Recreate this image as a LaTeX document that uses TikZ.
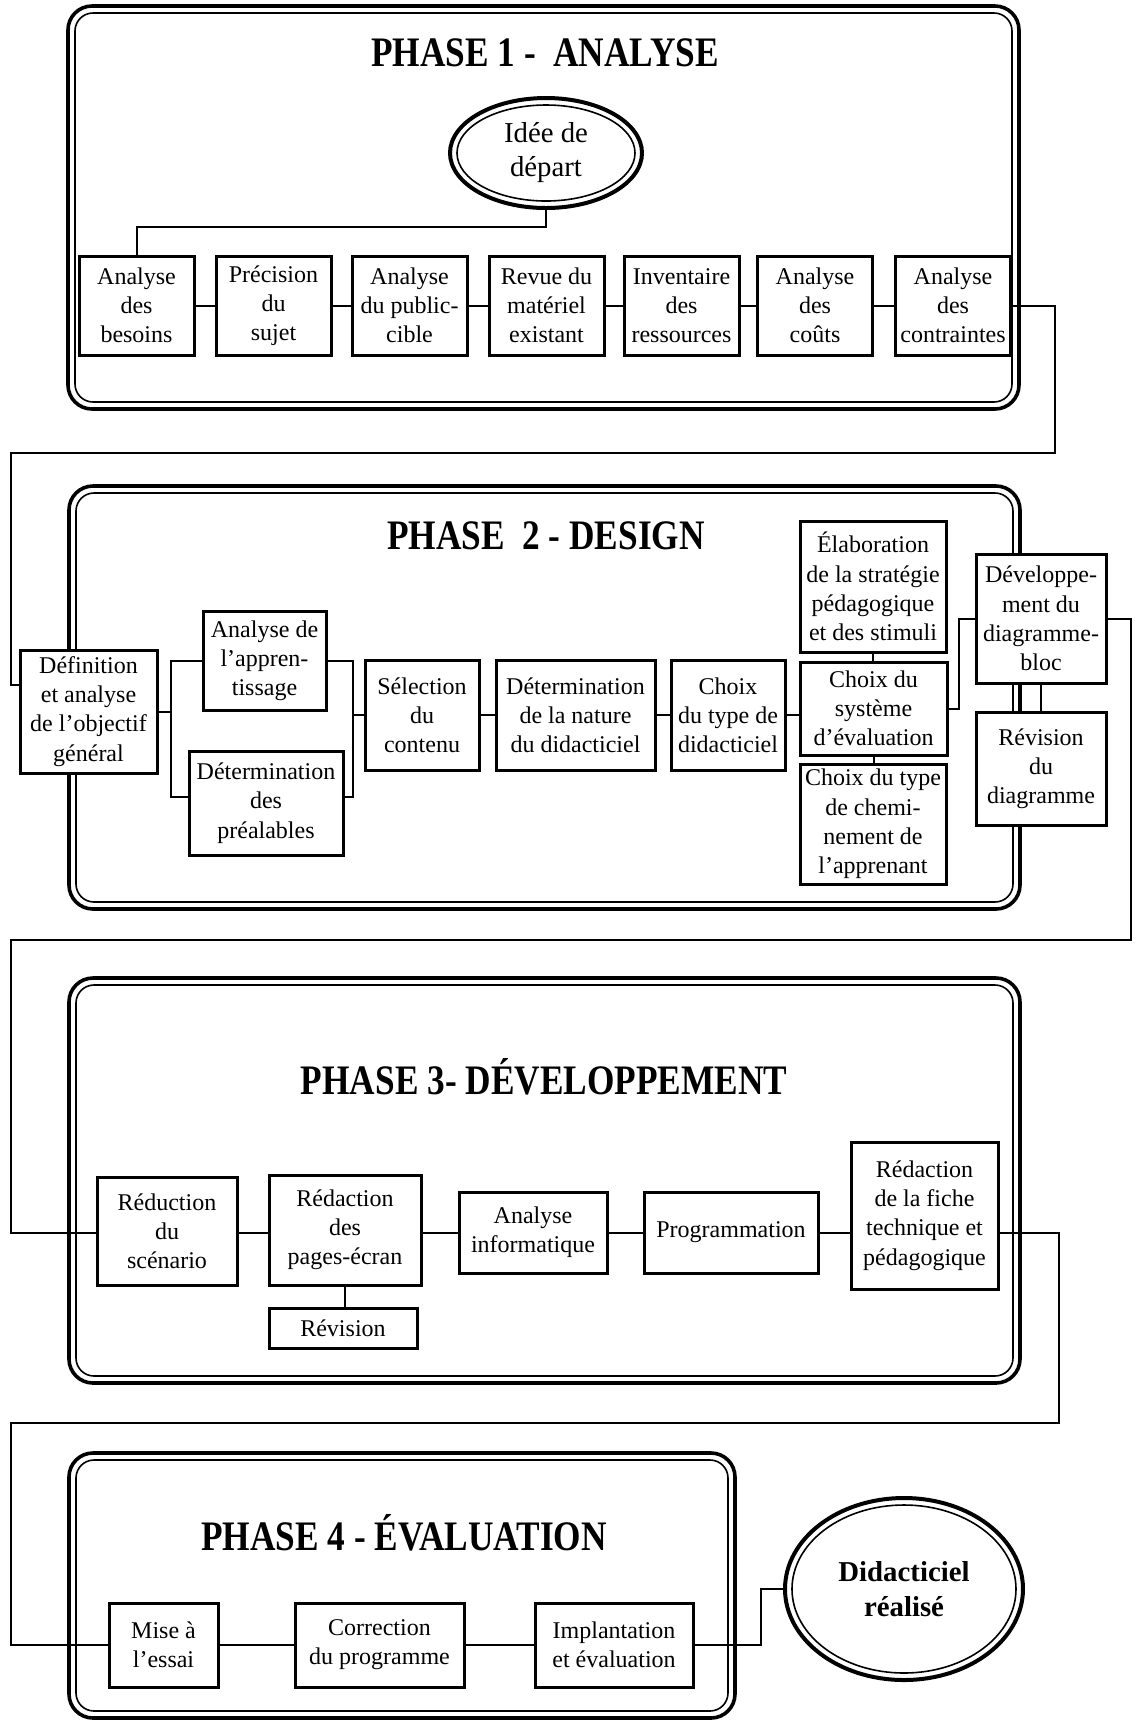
\documentclass[tikz,border=0pt]{standalone}
\usepackage{fontspec}
\setmainfont{Liberation Serif}
\newfontfamily\titlefont[FakeStretch=0.84]{Liberation Serif}
\usetikzlibrary{shapes.geometric}
\begin{document}
\begin{tikzpicture}[x=0.5pt, y=-0.5pt,
  box/.style={draw, line width=1.5pt, fill=white, align=center, inner sep=0pt, font=\fontsize{12}{14.6}\selectfont},
  conn/.style={line width=1pt},
  outerf/.style={line width=1.8pt, rounded corners=12pt},
  innerf/.style={line width=0.8pt, rounded corners=9pt},
  ttl/.style={font=\titlefont\bfseries\fontsize{21}{24}\selectfont, inner sep=0pt},
  oval/.style={draw, ellipse, line width=2pt, fill=white, align=center, inner sep=0pt},
  p1box/.style={box, minimum width=57.5pt, minimum height=49.5pt}
]
\useasboundingbox (0,0) rectangle (1138,1721);

% ---------- frames ----------
\draw[outerf] (68,6) rectangle (1019,409);
\draw[innerf] (75,13) rectangle (1012,402);
\draw[outerf] (69,486) rectangle (1020,909);
\draw[innerf] (76,493) rectangle (1013,902);
\draw[outerf] (69,978) rectangle (1020,1383);
\draw[innerf] (76,985) rectangle (1013,1376);
\draw[outerf] (69,1453) rectangle (735,1718);
\draw[innerf] (76,1460) rectangle (728,1711);

% ---------- titles ----------
\node[ttl] (t1) at (545,53) {PHASE 1 - \ ANALYSE};
\node[ttl] (t2) at (546,536) {PHASE \ 2 - DESIGN};
\node[ttl] (t3) at (544,1077) {PHASE 3- DÉVELOPPEMENT};
\node[ttl] (t4) at (404,1533) {PHASE 4 - ÉVALUATION};

% ---------- phase 1 ----------
\node[oval, minimum width=96pt, minimum height=55pt, font=\fontsize{14.4}{17}\selectfont] (idee) at (546,153) {Idée de\\départ};
\draw[line width=0.8pt] (idee.center) ellipse [x radius=44.5pt, y radius=24pt];
\node[p1box] (b1) at (136.5,305.5) {Analyse\\des\\besoins};
\node[p1box] (b2) at (273.5,305.5) {Précision\\du\\sujet};
\node[p1box] (b3) at (409.5,305.5) {Analyse\\du public-\\cible};
\node[p1box] (b4) at (546.5,305.5) {Revue du\\matériel\\existant};
\node[p1box] (b5) at (681.5,305.5) {Inventaire\\des\\ressources};
\node[p1box] (b6) at (815,305.5) {Analyse\\des\\coûts};
\node[p1box] (b7) at (953,305.5) {Analyse\\des\\contraintes};

\coordinate (k1) at (546,227);
\draw[conn] (idee.south) -- (k1) -| (b1.north);
\draw[conn] (b1.east) -- (b2.west);
\draw[conn] (b2.east) -- (b3.west);
\draw[conn] (b3.east) -- (b4.west);
\draw[conn] (b4.east) -- (b5.west);
\draw[conn] (b5.east) -- (b6.west);
\draw[conn] (b6.east) -- (b7.west);

% ---------- phase 2 ----------
\node[box, minimum width=68.5pt, minimum height=61.5pt] (def) at (88.5,711.5) {Définition\\et analyse\\de l'objectif\\général};
\node[box, minimum width=61.5pt, minimum height=49.5pt] (anap) at (264.5,660.5) {Analyse de\\l'appren-\\tissage};
\node[box, minimum width=77pt, minimum height=52pt] (prea) at (266,803) {Détermination\\des\\préalables};
\node[box, minimum width=57pt, minimum height=55pt] (sel) at (422,715) {Sélection\\du\\contenu};
\node[box, minimum width=79.5pt, minimum height=55pt] (nat) at (575.5,715) {Détermination\\de la nature\\du didacticiel};
\node[box, minimum width=57pt, minimum height=55pt] (typ) at (728,715) {Choix\\du type de\\didacticiel};
\node[box, minimum width=73pt, minimum height=65.5pt] (ela) at (873,586.5) {Élaboration\\de la stratégie\\pédagogique\\et des stimuli};
\node[box, minimum width=73.5pt, minimum height=46.5pt] (sys) at (873.5,708.5) {Choix du\\système\\d'évaluation};
\node[box, minimum width=73pt, minimum height=60pt] (che) at (873,824) {Choix du type\\de chemi-\\nement de\\l'apprenant};
\node[box, minimum width=65pt, minimum height=64.5pt] (dev) at (1041,618.5) {Développe-\\ment du\\diagramme-\\bloc};
\node[box, minimum width=65pt, minimum height=56.5pt] (rev) at (1041,768.5) {Révision\\du\\diagramme};

% phase 1 -> phase 2
\coordinate (c1) at (11,685);
\draw[conn] (b7.east) -| (1055,453) -| (c1) -- (c1 -| def.west);

\coordinate (L1) at (171,660.5);
\coordinate (L2) at (171,797);
\coordinate (R1) at (353,660.5);
\coordinate (R2) at (353,797);
\draw[conn] (def.east) -- (def.east -| L1);
\draw[conn] (anap.west) -- (L1) -- (L2) -- (L2 -| prea.west);
\draw[conn] (anap.east) -- (R1) -- (R2) -- (R2 -| prea.east);
\draw[conn] (sel.west) -- (sel.west -| R1);
\draw[conn] (sel.east) -- (nat.west);
\draw[conn] (nat.east) -- (typ.west);
\draw[conn] (typ.east) -- (typ.east -| sys.west);
\draw[conn] (ela.south) -- (ela.south |- sys.north);
\draw[conn] (sys.south) -- (sys.south |- che.north);
\coordinate (S1) at (959,618.5);
\draw[conn] (sys.east) -| (S1) -- (dev.west);
\draw[conn] (dev.south) -- (rev.north);

% ---------- phase 3 ----------
\coordinate (M3) at (0,1233);
\node[box, minimum width=70pt, minimum height=54pt] (red) at (167,1231) {Réduction\\du\\scénario};
\node[box, minimum width=76pt, minimum height=55pt] (pag) at (345,1230) {Rédaction\\des\\pages-écran};
\node[box, minimum width=74pt, minimum height=20pt] (rv3) at (343,1328) {Révision};
\node[box, minimum width=74pt, minimum height=40.5pt] (inf) at (533,1232.5) {Analyse\\informatique};
\node[box, minimum width=87pt, minimum height=40.5pt] (pro) at (731,1232.5) {Programmation};
\node[box, minimum width=73.5pt, minimum height=73.5pt] (fic) at (924.5,1215.5) {Rédaction\\de la fiche\\technique et\\pédagogique};

% phase 2 -> phase 3
\coordinate (c2) at (11,1233);
\draw[conn] (dev.east) -| (1131,940) -| (c2) -- (c2 -| red.west);

\draw[conn] (red.east |- M3) -- (pag.west |- M3);
\draw[conn] (pag.east |- M3) -- (inf.west |- M3);
\draw[conn] (inf.east |- M3) -- (pro.west |- M3);
\draw[conn] (pro.east |- M3) -- (fic.west |- M3);
\draw[conn] (pag.south) -- (pag.south |- rv3.north);

% ---------- phase 4 ----------
\node[box, minimum width=54.5pt, minimum height=42pt] (mis) at (163.5,1645) {Mise à\\l'essai};
\node[box, minimum width=84.5pt, minimum height=42pt] (cor) at (379.5,1645) {Correction\\du programme};
\node[box, minimum width=79pt, minimum height=42pt] (imp) at (614,1645) {Implantation\\et évaluation};
\node[oval, minimum width=119pt, minimum height=91pt, font=\bfseries\fontsize{14.4}{17.5}\selectfont] (did) at (904,1589) {Didacticiel\\réalisé};
\draw[line width=0.8pt] (did.center) ellipse [x radius=56pt, y radius=42pt];

% phase 3 -> phase 4
\coordinate (c4) at (11,1645);
\draw[conn] (fic.east |- M3) -| (1059,1423) -| (c4) -- (mis.west);

\draw[conn] (mis.east) -- (cor.west);
\draw[conn] (cor.east) -- (imp.west);
\coordinate (k4) at (761,1589);
\draw[conn] (imp.east) -| (k4) -- (did.west);
\end{tikzpicture}
\end{document}
